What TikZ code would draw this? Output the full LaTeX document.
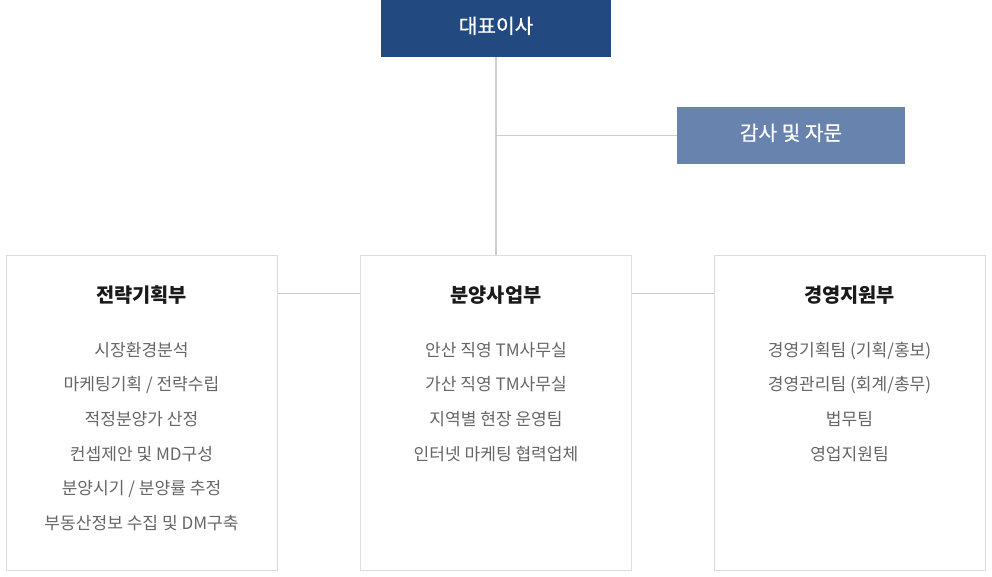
\documentclass[tikz,border=0pt]{standalone}
\usepackage{fontspec}
\setmainfont{Noto Sans CJK KR}
\newfontface\medface{Noto Sans CJK KR}[FakeBold=0.7]
\definecolor{ceoblue}{HTML}{224A80}
\definecolor{auditblue}{HTML}{6883AE}
\definecolor{boxline}{HTML}{DDDDDD}
\definecolor{connline}{HTML}{CCCCCC}
\definecolor{titletext}{HTML}{1A1A1A}
\definecolor{itemtext}{HTML}{666666}
\tikzset{
  txt/.style={inner sep=0pt, text height=0.85em, text depth=0.12em},
  topbox/.style={rectangle, draw=none, fill=#1, text=white, inner sep=0pt,
    minimum height=42.75pt, font=\fontsize{15.2}{17}\medface},
  toplabel/.style={txt, text=white, font=\fontsize{15.2}{17}\medface},
  deptbox/.style={rectangle, draw=boxline, line width=0.75pt, fill=white, inner sep=0pt,
    minimum width=203.25pt, minimum height=236.25pt},
  depttitle/.style={txt, text=titletext, font=\fontsize{14.8}{17}\selectfont\bfseries},
  deptitem/.style={txt, text=itemtext, font=\fontsize{12.8}{15}\selectfont},
  conn/.style={draw=connline, line width=1.1pt}
}
\begin{document}
\begin{tikzpicture}[x=0.75pt,y=-0.75pt]
\useasboundingbox (0,0) rectangle (992,576);
% top boxes
\node[topbox=ceoblue, minimum width=172.5pt] (ceo) at (496,28.5) {};
\node[toplabel] (ceoT) at (ceo.center) {대표이사};
\node[topbox=auditblue, minimum width=171pt] (audit) at (791,135.5) {};
\node[toplabel] (auditT) at (audit.center) {감사 및 자문};
% department boxes
\node[deptbox] (strat) at (141.5,412.5) {};
\node[deptbox] (sales) at (496,412.5) {};
\node[deptbox] (mgmt) at (849.5,412.5) {};
% connectors
\draw[conn] (ceo.south) -- (sales.north);
\draw[conn] (ceo.south |- audit.west) -- (audit.west);
\path (strat.north east) ++(0,39) coordinate (j1);
\path (sales.north east) ++(0,39) coordinate (j2);
\draw[conn] (j1) -- (j1 -| sales.west);
\draw[conn] (j2) -- (j2 -| mgmt.west);
% titles
\node[depttitle] (t1) at (141.5,297.5) {전략기획부};
\node[depttitle] (t2) at (496,297.5) {분양사업부};
\node[depttitle] (t3) at (849.5,297.5) {경영지원부};
% items: strategy
\node[deptitem] (s1) at (141.5,351.5) {시장환경분석};
\node[deptitem] (s2) at (141.5,386.1) {마케팅기획 / 전략수립};
\node[deptitem] (s3) at (141.5,420.7) {적정분양가 산정};
\node[deptitem] (s4) at (141.5,455.3) {컨셉제안 및 MD구성};
\node[deptitem] (s5) at (141.5,489.9) {분양시기 / 분양률 추정};
\node[deptitem] (s6) at (141.5,524.5) {부동산정보 수집 및 DM구축};
% items: sales
\node[deptitem] (b1) at (496,351.5) {안산 직영 TM사무실};
\node[deptitem] (b2) at (496,386.1) {가산 직영 TM사무실};
\node[deptitem] (b3) at (496,420.7) {지역별 현장 운영팀};
\node[deptitem] (b4) at (496,455.3) {인터넷 마케팅 협력업체};
% items: management
\node[deptitem] (m1) at (849.5,351.5) {경영기획팀 (기획/홍보)};
\node[deptitem] (m2) at (849.5,386.1) {경영관리팀 (회계/총무)};
\node[deptitem] (m3) at (849.5,420.7) {법무팀};
\node[deptitem] (m4) at (849.5,455.3) {영업지원팀};
\end{tikzpicture}
\end{document}
